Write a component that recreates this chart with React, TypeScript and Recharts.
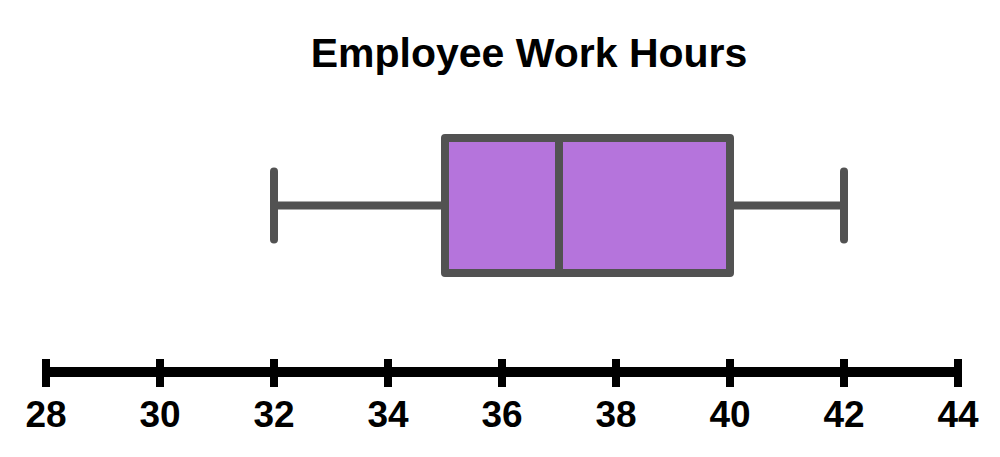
import React from "react";
import { ComposedChart, XAxis, YAxis, Bar } from "recharts";

// five-number summary
const groups = ["Hours"];
const mins = [32];
const q1s = [35];
const medians = [37];
const q3s = [40];
const maxs = [42];
const xTicks = [28, 30, 32, 34, 36, 38, 40, 42, 44];

const data = groups.map((g, i) => ({
  name: g,
  box: [q1s[i], q3s[i]],
  min: mins[i],
  median: medians[i],
  max: maxs[i],
}));

const STROKE = "#525252";
const FILL = "#b574dc";
const FONT = "'Liberation Sans', Arial, sans-serif";

const BoxShape = (props: any) => {
  const { x, y, width, height, payload } = props;
  const [lo, hi] = payload.box;
  const ppu = width / (hi - lo);
  const px = (v: number) => x + (v - lo) * ppu;
  const cy = y + height / 2;
  const capHalf = 34;
  return (
    <g>
      <line x1={px(payload.min)} x2={x} y1={cy} y2={cy} stroke={STROKE} strokeWidth={8} />
      <line x1={x + width} x2={px(payload.max)} y1={cy} y2={cy} stroke={STROKE} strokeWidth={8} />
      <line x1={px(payload.min)} x2={px(payload.min)} y1={cy - capHalf} y2={cy + capHalf} stroke={STROKE} strokeWidth={8} strokeLinecap="round" />
      <line x1={px(payload.max)} x2={px(payload.max)} y1={cy - capHalf} y2={cy + capHalf} stroke={STROKE} strokeWidth={8} strokeLinecap="round" />
      <rect x={x} y={y} width={width} height={height} fill={FILL} stroke={STROKE} strokeWidth={8} strokeLinejoin="round" />
      <line x1={px(payload.median)} x2={px(payload.median)} y1={y} y2={y + height} stroke={STROKE} strokeWidth={8} />
    </g>
  );
};

const AxisTick = (props: any) => {
  const { x, y, payload } = props;
  return (
    <g>
      <line x1={x} x2={x} y1={y - 13} y2={y + 15} stroke="#000" strokeWidth={8} />
      <text x={x} y={y + 55} textAnchor="middle" fontFamily={FONT} fontWeight="bold" fontSize={37} fill="#000">
        {payload.value}
      </text>
    </g>
  );
};

export default function App() {
  return (
    <div style={{ position: "fixed", left: 0, top: 0, width: 1000, height: 457, background: "#fff" }}>
      <div
        style={{
          position: "absolute",
          top: 33,
          left: 0,
          width: 1058,
          textAlign: "center",
          fontFamily: FONT,
          fontWeight: "bold",
          fontSize: 41,
          lineHeight: "41px",
          color: "#000",
        }}
      >
        Employee Work Hours
      </div>
      <ComposedChart
        width={1000}
        height={457}
        data={data}
        layout="vertical"
        margin={{ top: 38, right: 42, bottom: 55, left: 46 }}
      >
        <XAxis
          type="number"
          domain={[28, 44]}
          ticks={xTicks}
          allowDataOverflow
          height={30}
          tickSize={0}
          tickMargin={0}
          tickLine={false}
          axisLine={{ stroke: "#000", strokeWidth: 10 }}
          tick={<AxisTick />}
        />
        <YAxis type="category" dataKey="name" hide />
        <Bar dataKey="box" barSize={135} shape={<BoxShape />} isAnimationActive={false} />
      </ComposedChart>
    </div>
  );
}
